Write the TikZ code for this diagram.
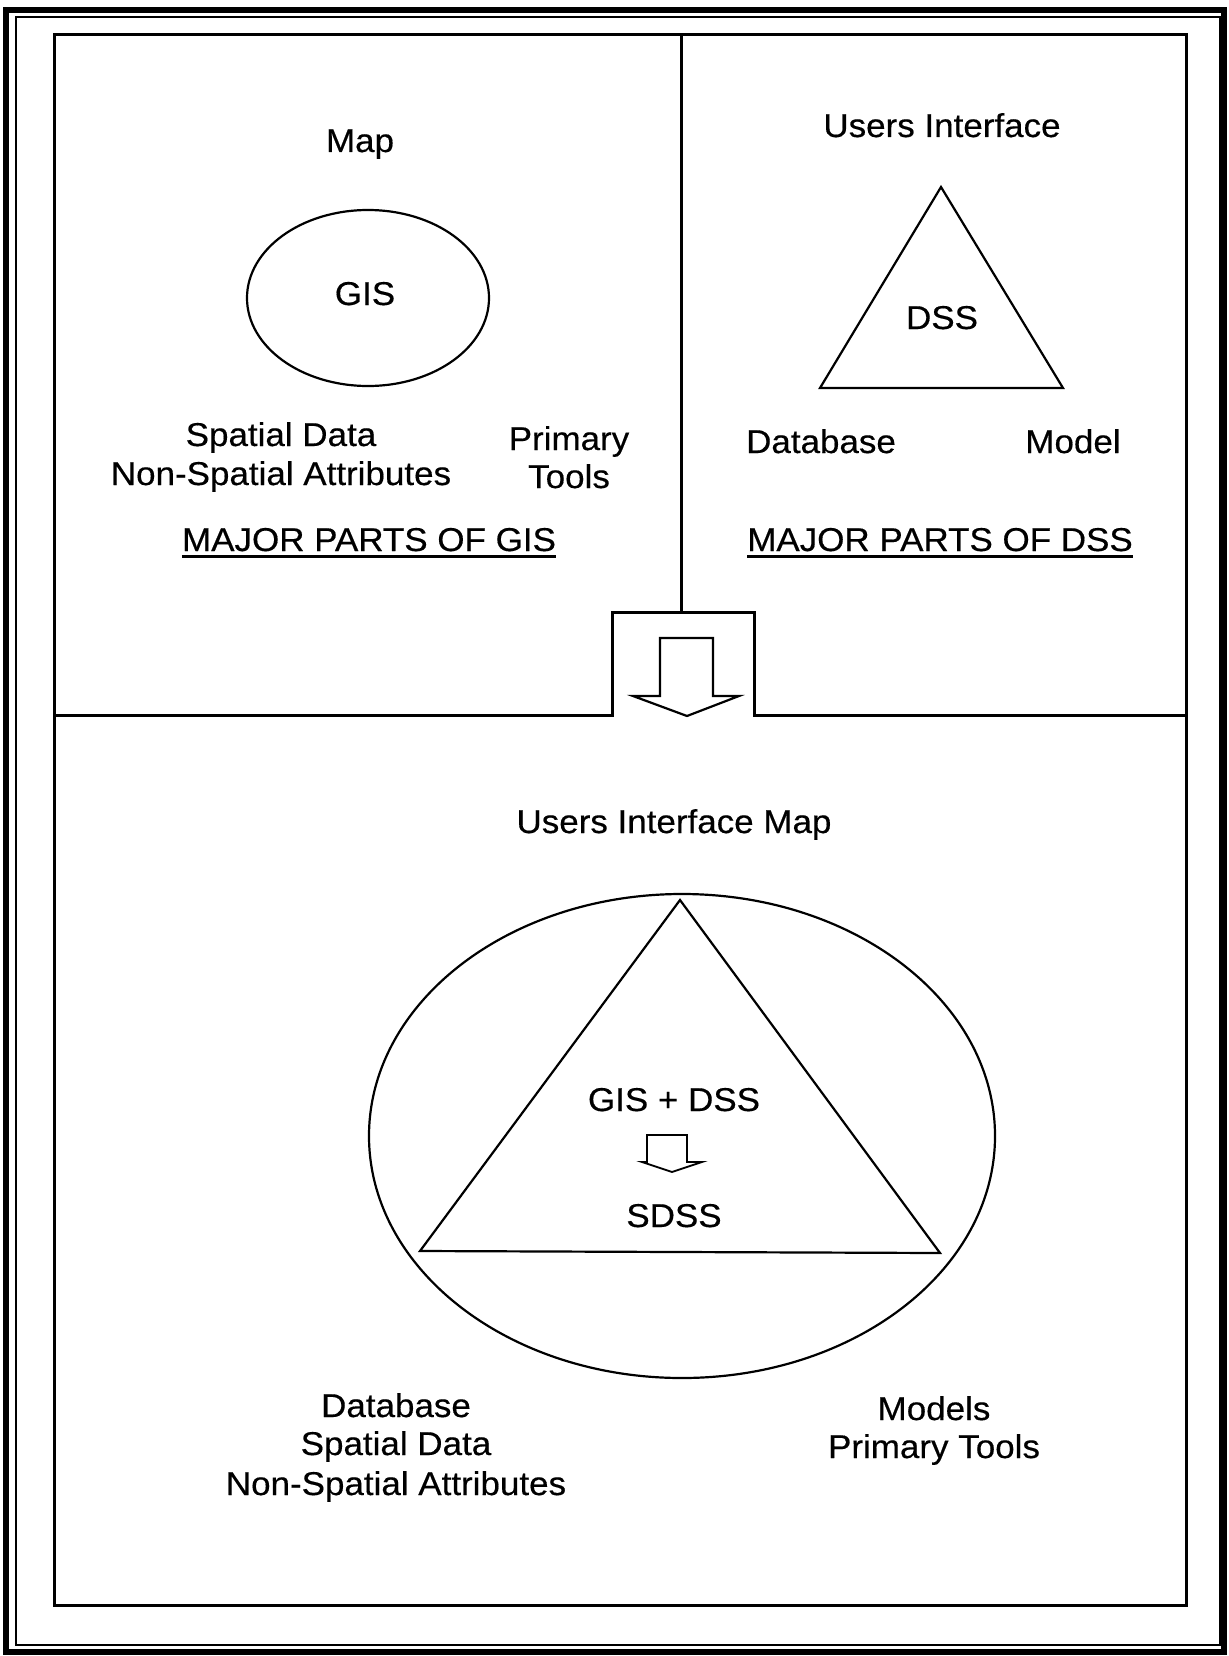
\documentclass[tikz,border=0pt]{standalone}
\usepackage{fontspec}
\usetikzlibrary{shapes.geometric}
\setmainfont{Liberation Sans}[FakeStretch=1.06,FakeBold=0.4]
\begin{document}
\begin{tikzpicture}[x=1pt,y=-1pt,
  lbl/.style={font=\fontsize{33}{39}\selectfont, inner sep=0pt, anchor=base},
  frame/.style={line width=3pt, line join=miter},
  outline/.style={line width=2.2pt, line join=miter},
  thinoutline/.style={line width=1.8pt, line join=miter}]
\useasboundingbox (0,0) rectangle (1228,1656);
\fill[white] (0,0) rectangle (1228,1656);

% double page border
\draw[line width=6pt] (6,10) rectangle (1224,1652);
\draw[line width=2pt] (16,17) rectangle (1220,1645);

% panel frame with the notch holding the arrow
\draw[frame] (54,35) rectangle (1186,1605);
\draw[frame] (681,35) -- (681,612);
\draw[frame] (54,715) -- (612,715) -- (612,612) -- (754,612) -- (754,715) -- (1186,715);

% big hollow arrow
\draw[outline] (660,638) -- (713,638) -- (713,696) -- (739,696) -- (687,716)
  -- (633,696) -- (660,696) -- cycle;

% ---- GIS panel ----
\node[lbl] (map) at (360,152) {Map};
\node[draw, ellipse, outline, minimum width=242pt, minimum height=176pt,
      inner sep=0pt] (gisEll) at (368,298) {};
\node[lbl] (gis) at (365,305) {GIS};
\node[lbl] (spd) at (281,446) {Spatial Data};
\node[lbl] (nsa) at (281,485) {Non-Spatial Attributes};
\node[lbl] (prim) at (569,450) {Primary};
\node[lbl] (tools) at (569,488) {Tools};
\node[lbl] (gisT) at (369,551) {MAJOR PARTS OF GIS};
\draw[line width=2.4pt] ([yshift=-5.5pt]gisT.base west) -- ([yshift=-5.5pt]gisT.base east);

% ---- DSS panel ----
\node[lbl] (ui) at (942,137) {Users Interface};
\coordinate (dA) at (941,187);
\coordinate (dL) at (820,388);
\coordinate (dR) at (1063,388);
\draw[outline] (dA) -- (dL) -- (dR) -- cycle;
\node[lbl] (dss) at (942,329) {DSS};
\node[lbl] (db) at (821,453) {Database};
\node[lbl] (model) at (1073,453) {Model};
\node[lbl] (dssT) at (940,551) {MAJOR PARTS OF DSS};
\draw[line width=2.4pt] ([yshift=-5.5pt]dssT.base west) -- ([yshift=-5.5pt]dssT.base east);

% ---- SDSS panel ----
\node[lbl] (uim) at (674,833) {Users Interface Map};
\node[draw, ellipse, outline, minimum width=626pt, minimum height=484pt,
      inner sep=0pt] (bigEll) at (682,1136) {};
\coordinate (tA) at (680,900);
\coordinate (tL) at (420,1251);
\coordinate (tR) at (940,1253);
\draw[outline] (tA) -- (tL) -- (tR) -- cycle;
\node[lbl] (gd) at (674,1111) {GIS + DSS};
\draw[thinoutline] (647,1135) -- (687,1135) -- (687,1162) -- (702,1162) -- (672,1172)
  -- (642,1162) -- (647,1162) -- cycle;
\node[lbl] (sdss) at (674,1227) {SDSS};
\node[lbl] (db2) at (396,1417) {Database};
\node[lbl] (spd2) at (396,1455) {Spatial Data};
\node[lbl] (nsa2) at (396,1495) {Non-Spatial Attributes};
\node[lbl] (models) at (934,1420) {Models};
\node[lbl] (pt) at (934,1458) {Primary Tools};
\end{tikzpicture}
\end{document}
